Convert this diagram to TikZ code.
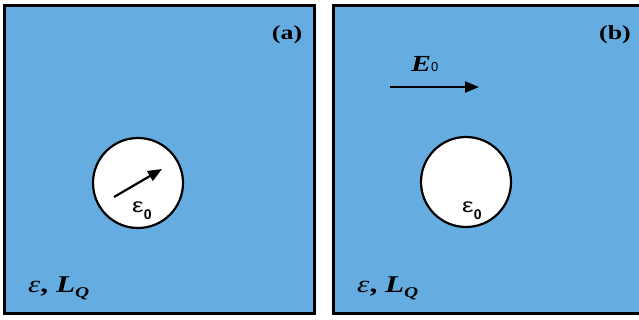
\documentclass[tikz,border=0pt]{standalone}
\usepackage{graphicx}
\usepackage{fontspec}
\setmainfont{Liberation Serif}
\newfontfamily\labelsans{Liberation Sans}
\usetikzlibrary{arrows.meta}
\definecolor{hostblue}{RGB}{101,173,225}
\newcommand{\widetext}[1]{\scalebox{1.3}[1]{#1}}
\tikzset{
  panel/.style={draw=black, line width=3pt, fill=hostblue},
  hole/.style={circle, draw=black, line width=2.2pt, fill=white, minimum size=90pt, inner sep=0pt},
  field/.style={line width=2.2pt, -{Triangle[length=14pt,width=11pt]}},
  lbl/.style={inner sep=0pt, anchor=base west}
}
\begin{document}
\begin{tikzpicture}[x=1pt,y=-1pt]
\useasboundingbox (0,0) rectangle (639,320);
% the two panels
\begin{scope}
\clip (0,0) rectangle (639,320);
\draw[panel] (4.5,5.5) rectangle (314,313.5);
\draw[panel] (333,5.5) rectangle (650,313.5);
\end{scope}
% panel (a)
\node[hole] (holeA) at (138,183) {};
\coordinate (tailA) at (114,197);
\coordinate (tipA) at (162,169);
\draw[field] (tailA) -- (tipA);
\node[lbl] (epsA) at (132,213) {\widetext{\labelsans\fontsize{20}{22}\selectfont ε}\raisebox{-6pt}{\labelsans\bfseries\fontsize{14}{14}\selectfont 0}};
\node[lbl] (hostA) at (28,292) {\widetext{\fontsize{24}{26}\selectfont\textit{ε}\textbf{,} \textbf{\textit{L}}\raisebox{-5pt}{\fontsize{15}{16}\selectfont\textbf{\textit{Q}}}}};
\node (tagA) at (287,35) {\widetext{\fontsize{20}{22}\selectfont\bfseries (a)}};
% panel (b)
\node[hole] (holeB) at (466,182) {};
\node[lbl] (epsB) at (462,213) {\widetext{\labelsans\fontsize{20}{22}\selectfont ε}\raisebox{-6pt}{\labelsans\bfseries\fontsize{14}{14}\selectfont 0}};
\coordinate (tailB) at (390,87);
\coordinate (tipB) at (479,87);
\draw[field] (tailB) -- (tipB);
\node[lbl] (fieldB) at (411,72) {\widetext{\fontsize{23}{24}\selectfont\textbf{\textit{E}}}{\labelsans\fontsize{13}{13}\selectfont 0}};
\node[lbl] (hostB) at (357,292) {\widetext{\fontsize{24}{26}\selectfont\textit{ε}\textbf{,} \textbf{\textit{L}}\raisebox{-5pt}{\fontsize{15}{16}\selectfont\textbf{\textit{Q}}}}};
\node (tagB) at (615,35) {\widetext{\fontsize{20}{22}\selectfont\bfseries (b)}};
\end{tikzpicture}
\end{document}
